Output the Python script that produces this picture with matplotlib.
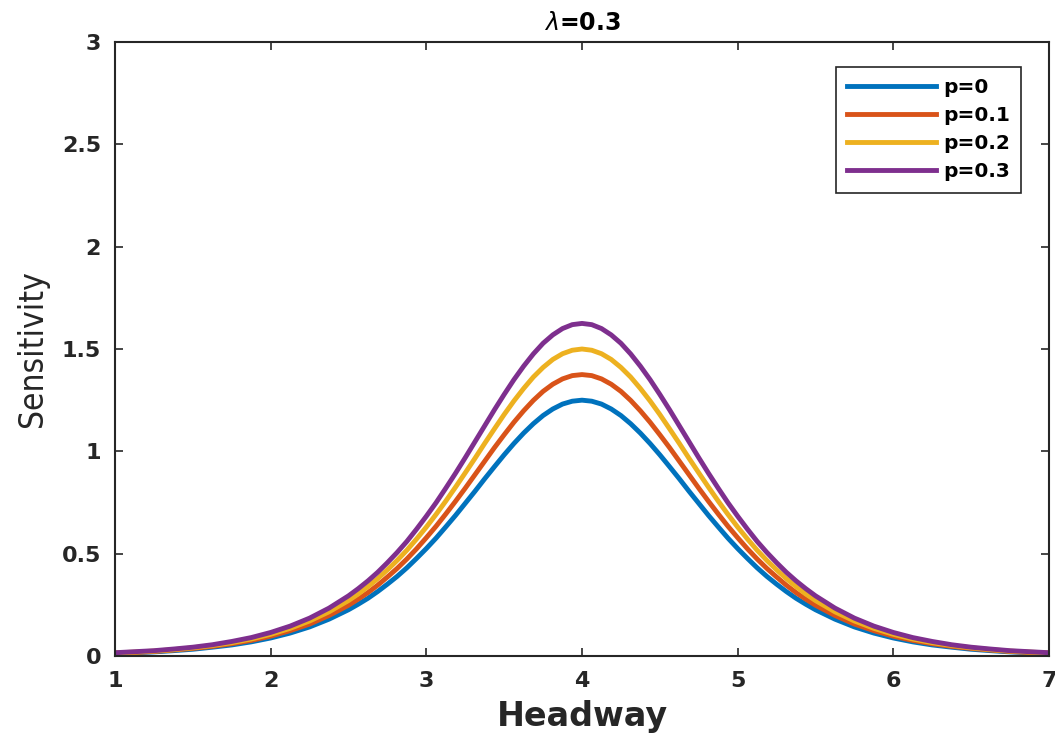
import matplotlib
matplotlib.use('Agg')
import matplotlib.pyplot as plt

# headway values (x) and sensitivity for each p
headway = [1, 1.125, 1.25, 1.375, 1.5, 1.625, 1.75, 1.875, 2, 2.125, 2.25, 2.375, 2.5,
           2.5625, 2.625, 2.6875, 2.75, 2.8125, 2.875, 2.9375, 3, 3.0625, 3.125, 3.1875,
           3.25, 3.3125, 3.375, 3.4375, 3.5, 3.5625, 3.625, 3.6875, 3.75, 3.8125, 3.875,
           3.9375, 4,
           4.0625, 4.125, 4.1875, 4.25, 4.3125, 4.375, 4.4375, 4.5, 4.5625, 4.625, 4.6875,
           4.75, 4.8125, 4.875, 4.9375, 5, 5.0625, 5.125, 5.1875, 5.25, 5.3125, 5.375,
           5.4375, 5.5, 5.625, 5.75, 5.875, 6, 6.125, 6.25, 6.375, 6.5, 6.625, 6.75, 6.875, 7]

sens_p0 = [0.012, 0.016, 0.020, 0.026, 0.033, 0.043, 0.054, 0.069, 0.088, 0.112, 0.142, 0.180, 0.226,
           0.253, 0.282, 0.315, 0.351, 0.389, 0.431, 0.477, 0.525, 0.576, 0.631, 0.687,
           0.746, 0.805, 0.866, 0.925, 0.983, 1.038, 1.089, 1.135, 1.175, 1.207, 1.231,
           1.245, 1.250,
           1.245, 1.231, 1.207, 1.175, 1.135, 1.089, 1.038, 0.983, 0.925, 0.866, 0.805,
           0.746, 0.687, 0.631, 0.576, 0.525, 0.477, 0.431, 0.389, 0.351, 0.315, 0.282,
           0.253, 0.226, 0.180, 0.142, 0.112, 0.088, 0.069, 0.054, 0.043, 0.033, 0.026, 0.020, 0.016, 0.012]
sens_p1 = [0.014, 0.017, 0.022, 0.029, 0.037, 0.047, 0.060, 0.076, 0.097, 0.124, 0.156, 0.198, 0.248,
           0.278, 0.310, 0.346, 0.386, 0.428, 0.474, 0.524, 0.578, 0.634, 0.694, 0.756,
           0.820, 0.886, 0.952, 1.018, 1.081, 1.142, 1.198, 1.249, 1.293, 1.328, 1.354,
           1.370, 1.375,
           1.370, 1.354, 1.328, 1.293, 1.249, 1.198, 1.142, 1.081, 1.018, 0.952, 0.886,
           0.820, 0.756, 0.694, 0.634, 0.578, 0.524, 0.474, 0.428, 0.386, 0.346, 0.310,
           0.278, 0.248, 0.198, 0.156, 0.124, 0.097, 0.076, 0.060, 0.047, 0.037, 0.029, 0.022, 0.017, 0.014]
sens_p2 = [0.015, 0.019, 0.024, 0.031, 0.040, 0.051, 0.065, 0.083, 0.106, 0.135, 0.171, 0.216, 0.271,
           0.303, 0.339, 0.378, 0.421, 0.467, 0.517, 0.572, 0.630, 0.692, 0.757, 0.825,
           0.895, 0.966, 1.039, 1.110, 1.180, 1.246, 1.307, 1.363, 1.410, 1.449, 1.477,
           1.494, 1.500,
           1.494, 1.477, 1.449, 1.410, 1.363, 1.307, 1.246, 1.180, 1.110, 1.039, 0.966,
           0.895, 0.825, 0.757, 0.692, 0.630, 0.572, 0.517, 0.467, 0.421, 0.378, 0.339,
           0.303, 0.271, 0.216, 0.171, 0.135, 0.106, 0.083, 0.065, 0.051, 0.040, 0.031, 0.024, 0.019, 0.015]
sens_p3 = [0.016, 0.021, 0.026, 0.034, 0.043, 0.055, 0.071, 0.090, 0.115, 0.146, 0.185, 0.234, 0.294,
           0.329, 0.367, 0.409, 0.456, 0.506, 0.560, 0.620, 0.683, 0.749, 0.820, 0.893,
           0.969, 1.047, 1.125, 1.203, 1.278, 1.350, 1.416, 1.476, 1.528, 1.569, 1.600,
           1.619, 1.625,
           1.619, 1.600, 1.569, 1.528, 1.476, 1.416, 1.350, 1.278, 1.203, 1.125, 1.047,
           0.969, 0.893, 0.820, 0.749, 0.683, 0.620, 0.560, 0.506, 0.456, 0.409, 0.367,
           0.329, 0.294, 0.234, 0.185, 0.146, 0.115, 0.090, 0.071, 0.055, 0.043, 0.034, 0.026, 0.021, 0.016]

labels = ['p=0', 'p=0.1', 'p=0.2', 'p=0.3']
colors = ['#0072BD', '#D95319', '#EDB120', '#7E2F8E']
x_ticks = [1, 2, 3, 4, 5, 6, 7]
y_ticks = [0, 0.5, 1, 1.5, 2, 2.5, 3]
y_ticklabels = ['0', '0.5', '1', '1.5', '2', '2.5', '3']

plt.rcParams['font.family'] = ['DejaVu Sans']

fig = plt.figure(figsize=(10.55, 7.44), dpi=100)
# axes box: x 115..1049 px, y 42..656 px
ax = fig.add_axes([115 / 1055, 1 - 656 / 744, 934 / 1055, 614 / 744])

for ys, lab, col in zip([sens_p0, sens_p1, sens_p2, sens_p3], labels, colors):
    ax.plot(headway, ys, color=col, linewidth=3.5, label=lab, solid_joinstyle='round')

ax.set_xlim(1, 7)
ax.set_ylim(0, 3)
ax.set_xticks(x_ticks)
ax.set_yticks(y_ticks)
ax.set_xticklabels([str(t) for t in x_ticks], fontsize=16, fontweight='bold', color='#262626')
ax.set_yticklabels(y_ticklabels, fontsize=16, fontweight='bold', color='#262626')
ax.tick_params(direction='in', length=5.5, width=1.2, top=True, right=True, colors='#262626')
ax.tick_params(axis='x', pad=11)
ax.tick_params(axis='y', pad=10)
for s in ax.spines.values():
    s.set_linewidth(1.5)
    s.set_color('#262626')

ax.set_xlabel('Headway', fontsize=24, fontweight='bold', color='#262626', labelpad=6)
ax.set_ylabel('Sensitivity', fontsize=24, color='#262626', labelpad=9, fontstretch='condensed')
ax.set_title(r'$\lambda$=0.3', fontsize=17, fontweight='bold', pad=9)

leg = ax.legend(loc='upper right', bbox_to_anchor=(0.970, 0.959), borderaxespad=0,
                prop={'size': 14.5, 'weight': 'bold'}, fancybox=False, edgecolor='#262626',
                handlelength=4.4, handletextpad=0.35, labelspacing=0.45, borderpad=0.55,
                framealpha=1)
leg.get_frame().set_linewidth(1.2)

fig.savefig('out.png', dpi=100)
